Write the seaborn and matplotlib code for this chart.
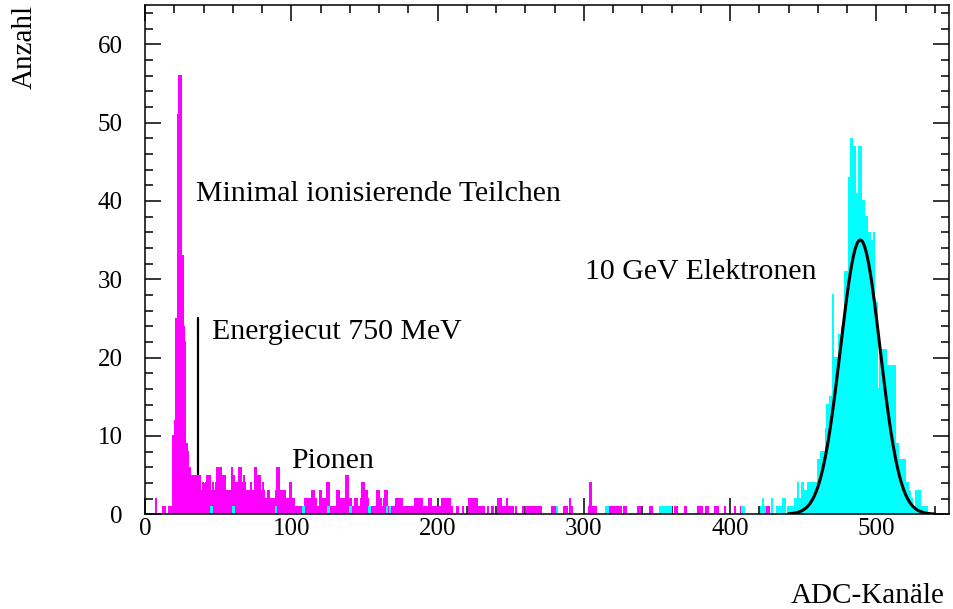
import numpy as np
import pandas as pd
import matplotlib
matplotlib.use("Agg")
import matplotlib.pyplot as plt
from matplotlib.ticker import MultipleLocator
import seaborn as sns

# ---------------- data (counts per ADC channel, channels 0..549) ----------------
pion_counts = [
    0, 0, 0, 0, 0, 0, 0, 2, 0, 0,        # 0-9
    0, 0, 1, 1, 0, 0, 1, 1, 0, 10,       # 10-19
    12, 25, 51, 56, 56, 33, 24, 22, 9, 8,  # 20-29
    6, 4, 5, 5, 5, 5, 5, 5, 3, 4,        # 30-39
    3, 4, 5, 5, 5, 3, 4, 3, 4, 6,        # 40-49
    6, 6, 4, 5, 5, 3, 3, 2, 3, 6,        # 50-59
    5, 4, 4, 3, 6, 6, 4, 5, 4, 3,        # 60-69
    3, 3, 4, 3, 3, 6, 3, 5, 5, 3,        # 70-79
    4, 3, 2, 2, 3, 2, 2, 2, 2, 3,        # 80-89
    6, 6, 3, 3, 2, 3, 2, 2, 2, 4,        # 90-99
    2, 2, 1, 1, 1, 1, 1, 1, 1, 2,        # 100-109
    2, 1, 2, 2, 3, 3, 2, 1, 1, 3,        # 110-119
    3, 2, 2, 2, 4, 4, 1, 1, 1, 1,        # 120-129
    1, 3, 3, 2, 2, 2, 2, 5, 5, 2,        # 130-139
    2, 1, 1, 2, 2, 1, 1, 2, 4, 4,        # 140-149
    2, 3, 2, 1, 1, 1, 1, 1, 3, 3,        # 150-159
    2, 2, 1, 2, 3, 3, 1, 1, 1, 0,        # 160-169
    1, 2, 2, 2, 2, 2, 1, 1, 1, 1,        # 170-179
    0, 1, 1, 1, 2, 2, 2, 2, 2, 2,        # 180-189
    1, 1, 1, 1, 2, 2, 1, 1, 1, 0,        # 190-199
    1, 1, 0, 2, 2, 2, 1, 2, 2, 1,        # 200-209
    0, 0, 0, 1, 0, 0, 0, 1, 0, 0,        # 210-219
    0, 2, 2, 1, 2, 2, 2, 1, 1, 1,        # 220-229
    1, 1, 0, 0, 1, 0, 0, 1, 0, 0,        # 230-239
    0, 2, 2, 2, 1, 1, 1, 2, 1, 1,        # 240-249
    1, 1, 0, 1, 0, 0, 0, 0, 1, 0,        # 250-259
    1, 1, 1, 1, 1, 1, 1, 1, 1, 1,        # 260-269
    1, 0, 0, 0, 0, 0, 0, 0, 1, 1,        # 270-279
    1, 0, 0, 0, 0, 0, 1, 1, 1, 0,        # 280-289
    2, 1, 0, 0, 0, 0, 0, 0, 0, 0,        # 290-299
    0, 0, 0, 1, 4, 1, 1, 1, 1, 0,        # 300-309
    0, 0, 0, 0, 0, 0, 0, 1, 1, 1,        # 310-319
    1, 1, 1, 1, 1, 1, 0, 1, 1, 0,        # 320-329
    0, 0, 0, 0, 0, 0, 0, 1, 1, 0,        # 330-339
    0, 0, 0, 0, 0, 1, 1, 0, 0, 0,        # 340-349
    0, 0, 0, 0, 0, 0, 0, 0, 0, 0,        # 350-359
    0, 0, 1, 1, 0, 0, 0, 0, 0, 1,        # 360-369
    0, 0, 0, 0, 0, 0, 0, 0, 1, 1,        # 370-379
    1, 0, 0, 1, 1, 0, 0, 0, 0, 1,        # 380-389
    1, 1, 0, 0, 0, 0, 1, 0, 0, 0,        # 390-399
    0, 0, 0, 1, 0, 0, 0, 1, 0, 0,        # 400-409
    0, 0, 0, 0, 0, 0, 0, 0, 0, 0,        # 410-419
    0, 0, 0, 0, 0, 1, 1, 0, 0, 0,        # 420-429
    0, 0, 0, 0, 0, 0, 0, 0, 0, 0,        # 430-439
    1, 0, 0, 0, 0, 0, 0, 0, 0, 0,        # 440-449
    0, 0, 0, 0, 0, 0, 0, 0, 0, 0,        # 450-459
    0, 0, 0, 0, 0, 0, 0, 0, 0, 0,        # 460-469
    0, 0, 0, 0, 0, 0, 0, 0, 0, 0,        # 470-479
    0, 0, 0, 0, 0, 0, 0, 0, 0, 0,        # 480-489
    0, 0, 0, 0, 0, 0, 0, 0, 0, 0,        # 490-499
    0, 0, 0, 0, 0, 0, 0, 0, 0, 0,        # 500-509
    0, 0, 0, 0, 0, 0, 0, 0, 0, 0,        # 510-519
    0, 0, 0, 0, 0, 0, 0, 0, 0, 0,        # 520-529
    0, 0, 0, 0, 0, 0, 0, 0, 0, 0,        # 530-539
    0, 0, 0, 0, 0, 0, 0, 0, 0, 0,        # 540-549
]

electron_counts = [
    0, 0, 0, 0, 0, 0, 0, 0, 0, 0,        # 0-9
    0, 0, 0, 0, 0, 0, 0, 0, 0, 0,        # 10-19
    0, 0, 0, 0, 0, 0, 0, 0, 0, 0,        # 20-29
    0, 0, 0, 0, 0, 0, 0, 0, 0, 0,        # 30-39
    0, 0, 0, 0, 0, 1, 0, 0, 0, 0,        # 40-49
    0, 0, 0, 0, 0, 0, 0, 0, 0, 0,        # 50-59
    1, 0, 0, 0, 0, 0, 0, 0, 0, 0,        # 60-69
    0, 0, 0, 0, 0, 0, 0, 0, 0, 0,        # 70-79
    0, 0, 0, 0, 0, 0, 0, 0, 0, 1,        # 80-89
    0, 0, 0, 0, 0, 0, 0, 0, 0, 0,        # 90-99
    0, 0, 0, 0, 0, 0, 0, 0, 1, 0,        # 100-109
    0, 0, 0, 0, 0, 0, 0, 0, 0, 0,        # 110-119
    0, 0, 0, 0, 0, 1, 0, 0, 0, 0,        # 120-129
    0, 0, 0, 0, 0, 0, 0, 0, 0, 0,        # 130-139
    1, 0, 0, 0, 0, 0, 0, 0, 0, 0,        # 140-149
    0, 0, 0, 1, 0, 0, 0, 0, 0, 0,        # 150-159
    0, 0, 0, 0, 0, 1, 0, 1, 0, 0,        # 160-169
    0, 0, 0, 0, 0, 0, 0, 0, 0, 0,        # 170-179
    0, 0, 0, 0, 0, 0, 0, 0, 0, 0,        # 180-189
    0, 0, 0, 0, 0, 0, 0, 0, 0, 0,        # 190-199
    0, 0, 0, 0, 0, 0, 0, 0, 0, 0,        # 200-209
    0, 0, 0, 0, 0, 0, 0, 0, 0, 0,        # 210-219
    0, 0, 0, 0, 0, 0, 0, 0, 0, 0,        # 220-229
    0, 0, 0, 0, 0, 0, 0, 0, 0, 0,        # 230-239
    0, 0, 0, 0, 0, 0, 0, 0, 0, 0,        # 240-249
    0, 0, 0, 0, 0, 0, 0, 0, 0, 0,        # 250-259
    0, 0, 0, 0, 0, 0, 0, 0, 0, 0,        # 260-269
    0, 0, 0, 0, 0, 0, 0, 0, 0, 0,        # 270-279
    0, 1, 0, 0, 0, 0, 0, 0, 0, 0,        # 280-289
    0, 0, 0, 0, 0, 0, 0, 0, 0, 0,        # 290-299
    0, 0, 0, 0, 0, 0, 0, 0, 0, 0,        # 300-309
    0, 0, 0, 0, 0, 1, 1, 0, 0, 0,        # 310-319
    0, 0, 0, 0, 0, 0, 0, 0, 0, 0,        # 320-329
    0, 0, 0, 0, 0, 0, 0, 0, 0, 0,        # 330-339
    0, 0, 0, 0, 0, 0, 0, 0, 0, 0,        # 340-349
    0, 0, 1, 1, 1, 1, 1, 1, 1, 1,        # 350-359
    0, 0, 0, 0, 0, 0, 0, 0, 0, 0,        # 360-369
    0, 0, 0, 0, 0, 0, 0, 0, 0, 0,        # 370-379
    0, 0, 0, 0, 0, 0, 0, 0, 0, 0,        # 380-389
    0, 0, 0, 0, 0, 0, 0, 0, 0, 0,        # 390-399
    0, 0, 0, 0, 0, 0, 0, 0, 1, 1,        # 400-409
    0, 0, 0, 0, 0, 0, 0, 0, 0, 0,        # 410-419
    0, 1, 2, 1, 0, 0, 0, 0, 2, 0,        # 420-429
    0, 0, 1, 1, 1, 1, 2, 2, 0, 1,        # 430-439
    1, 1, 0, 1, 2, 2, 4, 2, 2, 4,        # 440-449
    2, 3, 3, 4, 4, 4, 4, 4, 4, 4,        # 450-459
    7, 7, 8, 8, 8, 11, 14, 14, 15, 15,   # 460-469
    28, 20, 20, 20, 23, 23, 24, 24, 31, 31,  # 470-479
    31, 43, 48, 48, 47, 47, 41, 41, 47, 47,  # 480-489
    40, 40, 38, 38, 36, 36, 35, 35, 36, 27,  # 490-499
    27, 16, 20, 20, 21, 21, 21, 19, 19, 19,  # 500-509
    19, 19, 19, 9, 9, 7, 7, 7, 7, 7,     # 510-519
    4, 4, 3, 2, 2, 1, 1, 3, 3, 3,        # 520-529
    1, 1, 1, 1, 1, 0, 0, 0, 0, 0,        # 530-539
    0, 0, 0, 0, 0, 0, 0, 0, 0, 0,        # 540-549
]

channels = np.arange(len(pion_counts))

# Gaussian fit of the electron peak
fit_amplitude = 35.0
fit_mean = 489.0
fit_sigma = 13.5
fit_range = (440.0, 540.0)

energy_cut_channel = 36.0
energy_cut_height = 25.0

labels = {
    "mip": "Minimal ionisierende Teilchen",
    "cut": "Energiecut 750 MeV",
    "pion": "Pionen",
    "ele": "10 GeV Elektronen",
}

# ---------------- plotting ----------------
sns.set_theme(style="ticks")
plt.rcParams["font.family"] = ["Liberation Serif", "DejaVu Serif"]
for key in ("text.color", "axes.labelcolor", "xtick.color", "ytick.color", "axes.edgecolor"):
    plt.rcParams[key] = "black"

fig = plt.figure(figsize=(9.54, 6.09), dpi=100)
ax = fig.add_axes([145 / 954, 1 - 514.2 / 609, (949.5 - 145) / 954, (514.2 - 5) / 609])

df = pd.DataFrame({
    "Kanal": channels + 0.5,
    "Pionen": pion_counts,
    "Elektronen": electron_counts,
})

# energy cut marker (behind the histograms)
ax.plot([energy_cut_channel, energy_cut_channel], [0, energy_cut_height],
        color="black", linewidth=1.6, zorder=0.5)

sns.histplot(data=df, x="Kanal", weights="Pionen", binwidth=1, binrange=(0, 550),
             element="step", fill=True, color="#ff00ff", alpha=1.0,
             linewidth=0, edgecolor="none", antialiased=False, ax=ax, zorder=1)
sns.histplot(data=df, x="Kanal", weights="Elektronen", binwidth=1, binrange=(0, 550),
             element="step", fill=True, color="#00ffff", alpha=1.0,
             linewidth=0, edgecolor="none", antialiased=False, ax=ax, zorder=2)

fit_x = np.linspace(fit_range[0], fit_range[1], 400)
fit_y = fit_amplitude * np.exp(-0.5 * ((fit_x - fit_mean) / fit_sigma) ** 2)
sns.lineplot(x=fit_x, y=fit_y, color="black", linewidth=2.2, ax=ax, zorder=4)

ax.set_xlim(0, 550)
ax.set_ylim(0, 65)

ax.xaxis.set_major_locator(MultipleLocator(100))
ax.xaxis.set_minor_locator(MultipleLocator(20))
ax.yaxis.set_major_locator(MultipleLocator(10))
ax.yaxis.set_minor_locator(MultipleLocator(2))

ax.tick_params(which="both", direction="in", top=True, right=True,
               width=1.1, color="black", labelcolor="black", labelsize=18)
ax.tick_params(which="major", length=11.5)
ax.tick_params(which="minor", length=5.8)
ax.tick_params(axis="x", which="major", pad=3)
ax.tick_params(axis="y", which="major", pad=16)

for sp in ax.spines.values():
    sp.set_visible(True)
    sp.set_linewidth(1.1)
    sp.set_color("black")

ax.set_xlabel("ADC-Kanäle", fontsize=21, loc="right", color="black")
ax.xaxis.set_label_coords(0.9944, -0.135)
ax.set_ylabel("Anzahl", fontsize=21, loc="top", color="black")
ax.yaxis.set_label_coords(-0.133, 1.0)

txt_size = 21.5
ax.text(34.8, 40.0, labels["mip"], fontsize=txt_size, ha="left", va="baseline", color="black")
ax.text(45.5, 22.4, labels["cut"], fontsize=txt_size, ha="left", va="baseline", color="black")
ax.text(100.2, 5.9, labels["pion"], fontsize=txt_size, ha="left", va="baseline", color="black")
ax.text(301.0, 30.0, labels["ele"], fontsize=txt_size, ha="left", va="baseline", color="black")

fig.savefig("out.png", dpi=100)
